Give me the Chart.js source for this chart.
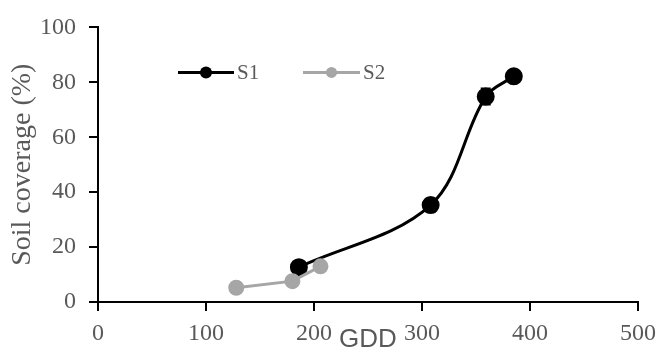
<!DOCTYPE html>
<html>
<head>
<meta charset="utf-8">
<script src="https://cdn.jsdelivr.net/npm/chart.js@4"></script>
<style>
  body { margin: 0; background: #fff; }
  #wrap { width: 664px; height: 351px; }
</style>
</head>
<body>
<div id="wrap"><canvas id="chart"></canvas></div>
<script>
// Data
const s1Gdd = [186, 308, 359, 385];
const s1Cover = [12.7, 35.3, 74.8, 82.2];
const s1Err = [1, 2.5, 3, 1.5];

const s2Gdd = [128, 180, 206];
const s2Cover = [5.2, 7.6, 13.0];
const s2Err = [0.5, 0.5, 1];

const xTicks = [0, 100, 200, 300, 400, 500];
const yTicks = [0, 20, 40, 60, 80, 100];

const gray = '#595959';
const serif = "'Times New Roman', 'Liberation Serif', Times, serif";
const toPoints = (xs, ys) => xs.map((x, i) => ({ x: x, y: ys[i] }));

// Excel-like error bars
const errorBars = {
  id: 'errorBars',
  afterDatasetsDraw(chart) {
    const { ctx, scales: { y } } = chart;
    const errs = [s1Err, s2Err];
    chart.data.datasets.forEach((ds, di) => {
      const meta = chart.getDatasetMeta(di);
      ctx.save();
      ctx.strokeStyle = ds.borderColor;
      ctx.lineWidth = 1.5;
      meta.data.forEach((pt, i) => {
        const v = ds.data[i].y;
        const top = y.getPixelForValue(v + errs[di][i]);
        const bot = y.getPixelForValue(v - errs[di][i]);
        ctx.beginPath();
        ctx.moveTo(pt.x, top); ctx.lineTo(pt.x, bot);
        ctx.moveTo(pt.x - 5, top); ctx.lineTo(pt.x + 5, top);
        ctx.moveTo(pt.x - 5, bot); ctx.lineTo(pt.x + 5, bot);
        ctx.stroke();
      });
      ctx.restore();
    });
  }
};

// Legend with line + marker, placed inside the plot
const lineLegend = {
  id: 'lineLegend',
  afterDraw(chart) {
    const { ctx, chartArea } = chart;
    const items = [
      { x: chartArea.left + 80, w: 56, r: 6 },
      { x: chartArea.left + 205, w: 57, r: 5.5 }
    ];
    const yy = chartArea.top + 45;
    chart.data.datasets.forEach((ds, i) => {
      const it = items[i];
      ctx.save();
      ctx.strokeStyle = ds.borderColor;
      ctx.fillStyle = ds.borderColor;
      ctx.lineWidth = 3;
      ctx.beginPath();
      ctx.moveTo(it.x, yy); ctx.lineTo(it.x + it.w, yy);
      ctx.stroke();
      ctx.beginPath();
      ctx.arc(it.x + it.w / 2, yy, it.r, 0, Math.PI * 2);
      ctx.fill();
      ctx.fillStyle = gray;
      ctx.font = '21px ' + serif;
      ctx.textBaseline = 'middle';
      ctx.fillText(ds.label, it.x + it.w + 3, yy + 1);
      ctx.restore();
    });
  }
};

new Chart(document.getElementById('chart'), {
  type: 'line',
  data: {
    datasets: [
      {
        label: 'S1',
        data: toPoints(s1Gdd, s1Cover),
        borderColor: '#000000',
        backgroundColor: '#000000',
        borderWidth: 3,
        pointRadius: 7.5,
        pointHoverRadius: 7.5,
        tension: 0.35,
        order: 2
      },
      {
        label: 'S2',
        data: toPoints(s2Gdd, s2Cover),
        borderColor: '#A6A6A6',
        backgroundColor: '#A6A6A6',
        borderWidth: 3,
        pointRadius: 6.5,
        pointHoverRadius: 6.5,
        tension: 0,
        order: 1
      }
    ]
  },
  options: {
    responsive: true,
    maintainAspectRatio: false,
    animation: false,
    layout: { padding: { top: 26, right: 20, left: 0, bottom: 0 } },
    plugins: {
      legend: { display: false },
      tooltip: { enabled: false }
    },
    scales: {
      x: {
        type: 'linear',
        min: 0,
        max: 500,
        afterBuildTicks: (axis) => { axis.ticks = xTicks.map(v => ({ value: v })); },
        afterFit: (axis) => { axis.height = 49; },
        border: { display: true, color: '#000', width: 2 },
        grid: { drawOnChartArea: false, drawTicks: true, tickLength: 9, color: '#000', lineWidth: 2 },
        ticks: { color: gray, font: { family: serif, size: 24 }, padding: 8, maxRotation: 0 },
        title: {
          display: true,
          text: 'GDD',
          color: gray,
          font: { family: "'Liberation Sans', Arial, sans-serif", size: 26, lineHeight: 1 },
          padding: { top: 0, bottom: -2 }
        }
      },
      y: {
        min: 0,
        max: 100,
        afterBuildTicks: (axis) => { axis.ticks = yTicks.map(v => ({ value: v })); },
        afterFit: (axis) => { axis.width = 98; },
        border: { display: true, color: '#000', width: 2 },
        grid: { drawOnChartArea: false, drawTicks: true, tickLength: 9, color: '#000', lineWidth: 2 },
        ticks: { color: gray, font: { family: serif, size: 24 }, padding: 13 },
        title: {
          display: true,
          text: 'Soil coverage (%)',
          color: gray,
          font: { family: serif, size: 28, lineHeight: 1.2 },
          padding: { top: 6, bottom: 0 }
        }
      }
    }
  },
  plugins: [errorBars, lineLegend]
});
</script>
</body>
</html>
